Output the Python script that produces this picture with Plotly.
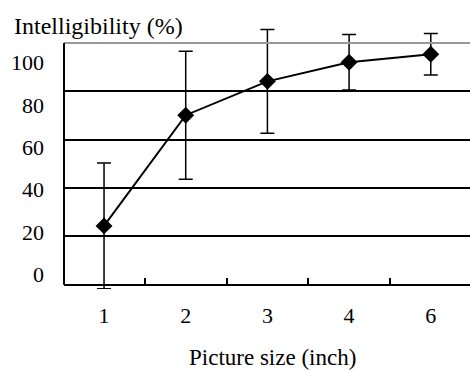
import plotly.graph_objects as go

categories = ["1", "2", "3", "4", "6"]
intelligibility = [24.3, 70.1, 84.1, 92.0, 95.3]
error = [26.0, 26.5, 21.5, 11.5, 8.6]
ytick_labels = [0, 20, 40, 60, 80, 100]

FONT = "Liberation Serif"

Y_MIN, Y_MAX = -1.8, 107.0
PLOT_L, PLOT_W = 64, 406

fig = go.Figure()
fig.add_trace(go.Scatter(
    x=categories, y=intelligibility,
    mode="lines+markers",
    line=dict(color="black", width=2),
    marker=dict(symbol="diamond", size=13, color="black"),
    error_y=dict(type="data", array=error, color="black", thickness=1.5, width=7),
    cliponaxis=False,
    showlegend=False,
))
fig.add_trace(go.Scatter(x=categories, y=[None] * len(categories), yaxis="y2",
                         showlegend=False, hoverinfo="skip"))

fig.update_layout(
    width=470, height=370,
    margin=dict(l=PLOT_L, r=0, t=25.7, b=80.6, autoexpand=False),
    plot_bgcolor="white", paper_bgcolor="white",
    font=dict(family=FONT, size=22, color="black"),
    xaxis=dict(
        type="category", range=[-0.49, 4.48],
        anchor="free", position=(0 - Y_MIN) / (Y_MAX - Y_MIN),
        showline=True, linecolor="black", linewidth=2,
        ticks="inside", tickson="boundaries", ticklen=6, tickwidth=2, tickcolor="black",
        showgrid=False, tickfont=dict(family=FONT, size=22),
        ticklabelstandoff=11, automargin=False,
    ),
    yaxis=dict(
        range=[Y_MIN, Y_MAX], tickvals=[20, 40, 60, 80], showticklabels=False,
        showgrid=True, gridcolor="black", gridwidth=1.5,
        showline=False, zeroline=False, ticks="", automargin=False,
    ),
    yaxis2=dict(
        overlaying="y", side="left", range=[-7.03, 117.4],
        tickvals=ytick_labels, ticktext=[str(v) for v in ytick_labels],
        showgrid=False, zeroline=False, showline=False, ticks="",
        tickfont=dict(family=FONT, size=22), ticklabelstandoff=19, automargin=False,
    ),
    shapes=[
        dict(type="line", xref="paper", yref="y", x0=0, x1=1, y0=100, y1=100,
             line=dict(color="#999999", width=2)),
        dict(type="line", xref="paper", yref="y", x0=0, x1=0, y0=0, y1=100,
             line=dict(color="black", width=2)),
    ],
    annotations=[
        dict(text="Intelligibility (%)", xref="paper", yref="paper",
             x=(12 - PLOT_L) / PLOT_W, y=1, yshift=0, xanchor="left", yanchor="middle",
             showarrow=False, font=dict(family=FONT, size=24)),
        dict(text="Picture size (inch)", xref="paper", yref="paper",
             x=(272 - PLOT_L) / PLOT_W, y=0, yshift=-68, xanchor="center", yanchor="middle",
             showarrow=False, font=dict(family=FONT, size=23)),
    ],
)

fig.write_html(
    "out.html",
    config={"displayModeBar": False},
    post_script="document.body.style.margin='0';document.body.style.overflow='hidden';",
)
